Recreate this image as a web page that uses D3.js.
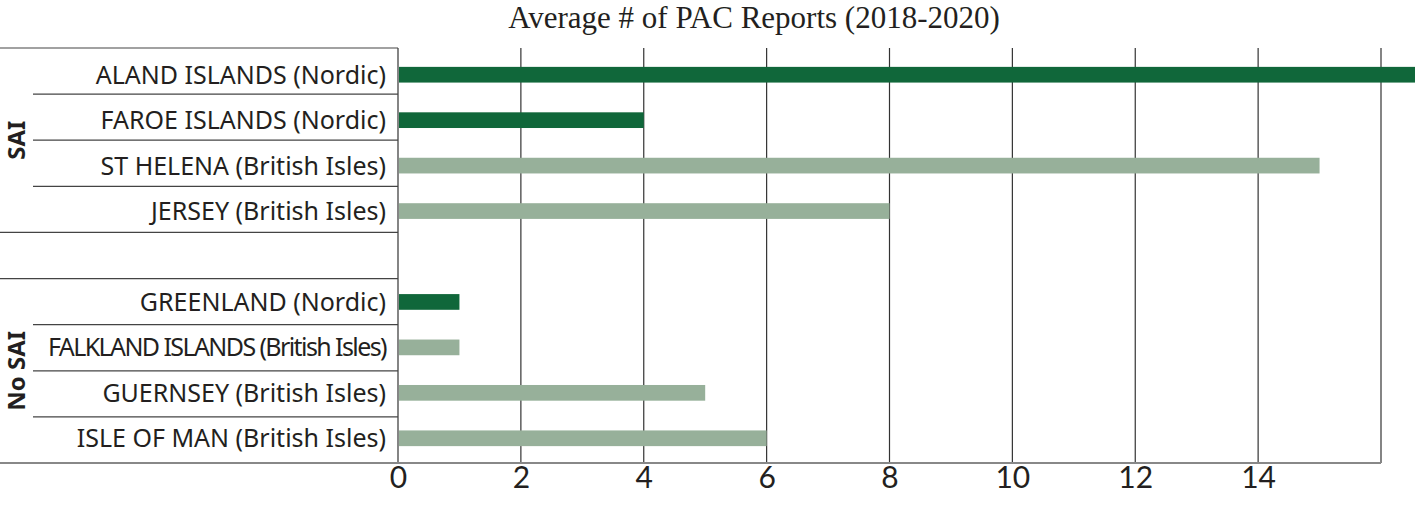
<!DOCTYPE html>
<html><head><meta charset="utf-8">
<script src="https://cdn.jsdelivr.net/npm/d3@7"></script>
<style>body{margin:0;background:#fff}svg{display:block}</style>
</head><body><svg id="c" width="1415" height="506"></svg>
<script>
(function(){
const title = "Average # of PAC Reports (2018-2020)";
const categories = ["ALAND ISLANDS (Nordic)","FAROE ISLANDS (Nordic)","ST HELENA (British Isles)","JERSEY (British Isles)","__gap__","GREENLAND (Nordic)","FALKLAND ISLANDS (British Isles)","GUERNSEY (British Isles)","ISLE OF MAN (British Isles)"];
const values = [17, 4, 15, 8, null, 1, 1, 5, 6];
const regions = ["Nordic","Nordic","British Isles","British Isles",null,"Nordic","British Isles","British Isles","British Isles"];
const groups = [{name:"SAI", rows:["ALAND ISLANDS (Nordic)","JERSEY (British Isles)"]},{name:"No SAI", rows:["GREENLAND (Nordic)","ISLE OF MAN (British Isles)"]}];
const xTicks = [0,2,4,6,8,10,12,14];
const colors = {"Nordic":"#10673a","British Isles":"#97b09a"};

const svg = d3.select("#c");
const mLeft = 398, mRight = 1381, mTop = 48, mBottom = 463;
const x = d3.scaleLinear().domain([0,16]).range([mLeft,mRight]);
const y = d3.scaleBand().domain(categories).range([mTop,mBottom]);
const yb = d3.scaleBand().domain(categories).range([52,461]);

svg.append("text").attr("x",754).attr("y",28).attr("text-anchor","middle")
  .attr("font-family","Liberation Serif, serif").attr("font-size",31).attr("fill","#231f20").text(title);

const grid = [...xTicks, 16];
svg.append("g").selectAll("line").data(grid).join("line")
  .attr("x1",d=>x(d)).attr("x2",d=>x(d)).attr("y1",mTop).attr("y2",mBottom)
  .attr("stroke","#333").attr("stroke-width",1.2);

const bounds = categories.map(c=>y(c)).concat([mBottom]);
const fullIdx = new Set([0,4,5,9]);
svg.append("g").selectAll("line").data(bounds).join("line")
  .attr("x1",(d,i)=>fullIdx.has(i)?0:33).attr("x2",mLeft)
  .attr("y1",d=>d).attr("y2",d=>d)
  .attr("stroke",(d,i)=>i===9?"#888":"#444").attr("stroke-width",(d,i)=>i===9?2:1.2);

svg.append("line").attr("x1",mLeft).attr("x2",mRight).attr("y1",mBottom).attr("y2",mBottom).attr("stroke","#888").attr("stroke-width",2);

const data = categories.map((c,i)=>({c,v:values[i],r:regions[i]})).filter(d=>d.v!=null);
const bh = 15.7;
svg.append("g").selectAll("rect").data(data).join("rect")
  .attr("x",x(0)+1).attr("y",d=>yb(d.c)+yb.bandwidth()/2-bh/2)
  .attr("width",d=>x(d.v)-x(0)-1).attr("height",bh)
  .attr("fill",d=>colors[d.r]);

const maxW = 386-48;
svg.append("g").selectAll("text").data(data).join("text")
  .attr("x",386).attr("y",d=>yb(d.c)+yb.bandwidth()/2+9)
  .attr("text-anchor","end").attr("font-family","Noto Sans, sans-serif").attr("font-size",25)
  .attr("fill","#231f20")
  .text(d=>d.c)
  .each(function(d){
    const w = this.getComputedTextLength();
    if (w > maxW) {
      const n = d.c.length;
      d3.select(this).attr("letter-spacing", ((maxW - w)/n).toFixed(2));
    }
  });

groups.forEach(g=>{
  const cy = (y(g.rows[0]) + y(g.rows[1]) + y.bandwidth())/2;
  svg.append("text").attr("transform",`translate(25,${cy}) rotate(-90)`)
    .attr("text-anchor","middle").attr("font-family","Noto Sans, sans-serif").attr("font-weight","bold")
    .attr("font-size",24).attr("fill","#231f20").text(g.name);
});

const ax = d3.axisBottom(x).tickValues(xTicks).tickSize(0).tickPadding(4);
const axg = svg.append("g").attr("transform",`translate(0,${mBottom})`).call(ax);
axg.select(".domain").remove();
axg.selectAll("text").attr("font-family","Lato, sans-serif").attr("font-weight","400").attr("font-size",30).attr("fill","#231f20");
})();
</script></body></html>
